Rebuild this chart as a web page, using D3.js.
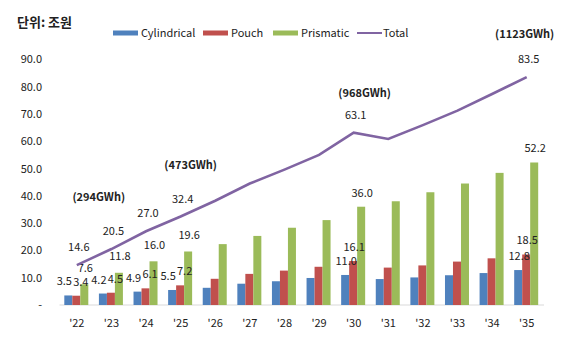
<!DOCTYPE html>
<html>
<head>
<meta charset="utf-8">
<script src="https://cdn.jsdelivr.net/npm/d3@7"></script>
<style>
  body { margin: 0; background: #fff; }
  text { font-family: "Noto Sans CJK KR", "Noto Sans", sans-serif; fill: #222; }
</style>
</head>
<body>
<svg class="chart" width="572" height="338"></svg>
<script>
const years = ["'22","'23","'24","'25","'26","'27","'28","'29","'30","'31","'32","'33","'34","'35"]
const cylindrical = [3.5, 4.2, 4.9, 5.5, 6.3, 7.8, 8.7, 9.9, 11.0, 9.5, 10.1, 10.9, 11.7, 12.8]
const pouch = [3.4, 4.5, 6.1, 7.2, 9.6, 11.4, 12.6, 14.0, 16.1, 13.7, 14.5, 15.9, 17.1, 18.5]
const prismatic = [7.6, 11.8, 16.0, 19.6, 22.3, 25.3, 28.3, 31.1, 36.0, 38.0, 41.3, 44.5, 48.4, 52.2]
const total = [14.6, 20.5, 27.0, 32.4, 38.2, 44.5, 49.6, 55.0, 63.1, 60.8, 65.9, 71.2, 77.3, 83.5]
const labelled = ["'22","'23","'24","'25","'30","'35"]
const gwhNotes = [["'22", "(294GWh)"], ["'25", "(473GWh)"], ["'30", "(968GWh)"], ["'35", "(1123GWh)"]]
const yTicks = [0, 10, 20, 30, 40, 50, 60, 70, 80, 90]
const seriesNames = ["Cylindrical", "Pouch", "Prismatic"]
const colors = ["#4f81bd", "#c0504d", "#9bbb59", "#8064a2"]

var svg = d3.select(".chart")

var xScale = d3.scaleBand()
    .domain(years)
    .range([59.5, 544])

var inner = d3.scaleBand()
    .domain(seriesNames)
    .range([-12.5, 11.5])

var yScale = d3.scaleLinear()
    .domain([0, 90])
    .range([305, 59.3])

var cx = function(d) { return xScale(d) + xScale.bandwidth() / 2 }

// title
svg.append("text")
    .attr("x", 17).attr("y", 27)
    .style("font-size", "13px").style("font-weight", "bold")
    .text("단위: 조원")

// y axis labels
svg.append("g").selectAll("text")
    .data(yTicks)
    .join("text")
    .attr("x", 42)
    .attr("y", d => yScale(d) + 4)
    .attr("text-anchor", "end")
    .style("font-size", "11px")
    .text(d => d === 0 ? "-" : d3.format(".1f")(d))

// baseline
svg.append("line")
    .attr("x1", 59.5).attr("x2", 544)
    .attr("y1", yScale(0)).attr("y2", yScale(0))
    .attr("stroke", "#d9d9d9").attr("stroke-width", 1)

// x labels
svg.append("g").selectAll("text")
    .data(years)
    .join("text")
    .attr("x", d => cx(d))
    .attr("y", 327)
    .attr("text-anchor", "middle")
    .style("font-size", "11px")
    .text(d => d)

const seriesData = [cylindrical, pouch, prismatic]
seriesData.forEach((vals, s) => {
    svg.append("g").selectAll("rect")
        .data(vals)
        .join("rect")
        .attr("x", (d, i) => cx(years[i]) + inner(seriesNames[s]))
        .attr("width", inner.bandwidth())
        .attr("y", d => yScale(d))
        .attr("height", d => yScale(0) - yScale(d))
        .attr("fill", colors[s])
})

// bar labels on top of all bars; small nudges where the early labels collide
const nudgeX = [-4, 4.5, 1]
const liftY = [10, 10, 12.5]
const labelLayer = svg.append("g")
seriesData.forEach((vals, s) => {
    labelLayer.append("g").selectAll("text")
        .data(vals.map((v, i) => ({v: v, yr: years[i], i: i})).filter(d => labelled.includes(d.yr)))
        .join("text")
        .attr("x", d => cx(d.yr) + inner(seriesNames[s]) + inner.bandwidth() / 2 + (d.i < 4 ? nudgeX[s] : 1))
        .attr("y", d => yScale(d.v) - (d.i < 4 ? liftY[s] : 10))
        .attr("text-anchor", "middle")
        .style("font-size", "11px")
        .text(d => d3.format(".1f")(d.v))
})

// total line
const line = d3.line()
    .x((d, i) => cx(years[i]))
    .y(d => yScale(d))

svg.append("path")
    .datum(total)
    .attr("d", line)
    .attr("fill", "none")
    .attr("stroke", colors[3])
    .attr("stroke-width", 2.6)

svg.append("g").selectAll("text")
    .data(total.map((v, i) => ({v: v, yr: years[i]})).filter(d => labelled.includes(d.yr)))
    .join("text")
    .attr("x", d => cx(d.yr) + 2)
    .attr("y", d => yScale(d.v) - 14)
    .attr("text-anchor", "middle")
    .style("font-size", "11px")
    .text(d => d3.format(".1f")(d.v))

// GWh notes
svg.append("g").selectAll("text")
    .data(gwhNotes)
    .join("text")
    .attr("x", d => cx(d[0]) + ({"'22": 22, "'25": 10, "'30": 11, "'35": -2})[d[0]])
    .attr("y", d => yScale(total[years.indexOf(d[0])]) - ({"'22": 64, "'25": 48, "'30": 36, "'35": 39})[d[0]])
    .attr("text-anchor", "middle")
    .style("font-size", "11px").style("font-weight", "bold")
    .text(d => d[1])

// legend
const legendItems = [
    {name: "Cylindrical", x: 113, color: colors[0]},
    {name: "Pouch", x: 203, color: colors[1]},
    {name: "Prismatic", x: 273, color: colors[2]},
    {name: "Total", x: 357, color: colors[3], line: true}
]
const legend = svg.append("g")
legendItems.forEach(d => {
    if (d.line) {
        legend.append("line")
            .attr("x1", d.x).attr("x2", d.x + 25)
            .attr("y1", 33).attr("y2", 33)
            .attr("stroke", d.color).attr("stroke-width", 2)
        legend.append("text").attr("x", d.x + 26).attr("y", 37)
            .style("font-size", "11px").text(d.name)
    } else {
        legend.append("rect")
            .attr("x", d.x).attr("y", 30.5)
            .attr("width", 25).attr("height", 5)
            .attr("fill", d.color)
        legend.append("text").attr("x", d.x + 28).attr("y", 37)
            .style("font-size", "11px").text(d.name)
    }
})
</script>
</body>
</html>
